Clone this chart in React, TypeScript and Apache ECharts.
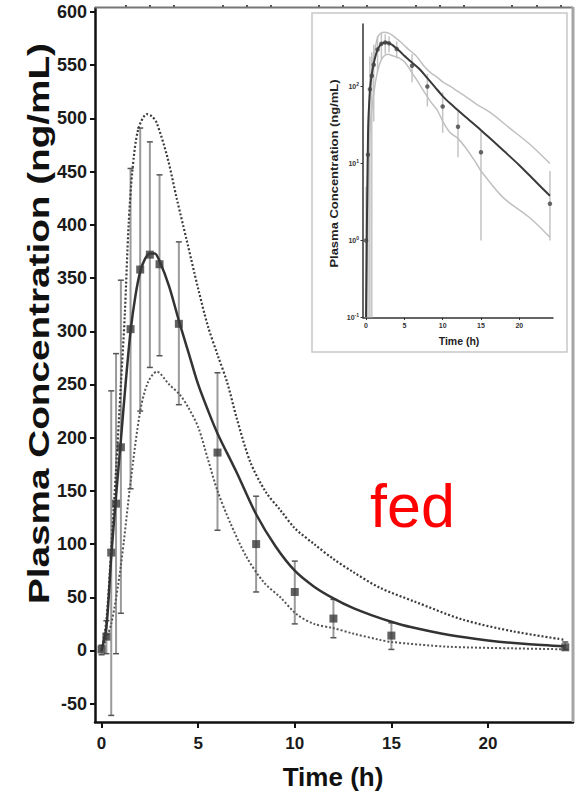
import React, { useEffect, useRef } from 'react';
import * as echarts from 'echarts';

// ---- Observed data (mean ± SD) ----
const OBS_T = [0, 0.25, 0.5, 0.75, 1, 1.5, 2, 2.5, 3, 4, 6, 8, 10, 12, 15, 24];
const OBS_MEAN = [1, 13, 92, 138, 191, 302, 358, 372, 363, 307, 186, 100, 55, 30, 14, 3];
const OBS_LOW = [-4, -3, -61, -3, 35, 152, 225, 266, 277, 231, 113, 55, 25, 12, 1, 1];
const OBS_HIGH = [5, 28, 244, 279, 348, 453, 491, 478, 447, 384, 261, 145, 84, 48, 26, 8];

// ---- Model prediction (solid) ----
const FIT_T = [0, 0.25, 0.5, 0.75, 1, 1.25, 1.5, 1.75, 2, 2.25, 2.5, 2.75, 3, 3.5, 4, 4.5, 5, 5.5, 6, 7, 8, 9, 10, 11, 12, 13, 14, 15, 16, 18, 20, 22, 24];
const FIT_MEAN = [0, 22, 88, 145, 198, 252, 300, 333, 356, 368, 373, 373, 366, 342, 310, 280, 250, 226, 204, 167, 128, 98, 75, 60, 49, 40, 33, 27, 22, 14.5, 9.5, 6, 3.8];

// ---- Upper prediction interval (dotted) ----
const UP_T = [0, 0.25, 0.5, 0.75, 1, 1.2, 1.4, 1.6, 1.9, 2.35, 2.6, 2.85, 3.4, 3.9, 4.4, 5, 5.5, 6, 6.5, 7, 7.7, 8.5, 9.25, 10, 11, 12, 13, 14.4, 16.2, 18.7, 21.3, 24];
const UP_VAL = [0, 28, 95, 170, 250, 315, 400, 452, 490, 504, 502, 496, 464, 424, 386, 340, 305, 278, 252, 218, 177, 149, 132, 115, 100, 86, 74, 59, 46, 29, 18, 10];

// ---- Lower prediction interval (dotted) ----
const LO_T = [0, 0.5, 1, 1.5, 2, 2.4, 2.86, 3.5, 4.07, 4.5, 5, 5.5, 6, 6.66, 7.5, 8.4, 9.25, 10.1, 11, 12, 13, 14.4, 15, 17.9, 21.3, 24];
const LO_VAL = [0, 25, 80, 158, 225, 252, 262, 250, 240, 228, 210, 180, 150, 120, 88, 64, 50, 34, 25, 21, 16, 10, 8, 3.6, 2, 1.1];

// ---- Tick labels ----
const Y_TICKS = [-50, 0, 50, 100, 150, 200, 250, 300, 350, 400, 450, 500, 550, 600];
const X_TICKS = [0, 5, 10, 15, 20];
const X_MINOR = [1.25, 2.5, 3.75, 6.25, 7.5, 8.75, 11.25, 12.5, 13.75, 16.25, 17.5, 18.75, 21.25, 22.5, 23.75];
const LOG_TICKS = [0.1, 1, 10, 100];

const FONT = '"Liberation Sans", Arial, sans-serif';
const LOGMIN = 0.1;

const pairs = (t: number[], v: number[], clamp = false) =>
  t.map((x, i) => [x, clamp ? Math.max(v[i], LOGMIN) : v[i]]);

const errData = (clamp: boolean) =>
  OBS_T.map((t, i) => [
    t,
    clamp ? Math.max(OBS_LOW[i], LOGMIN) : OBS_LOW[i],
    clamp ? Math.max(OBS_HIGH[i], LOGMIN) : OBS_HIGH[i],
  ]);

const makeErr = (color: string, capColor: string, width: number, cap: number) =>
  (params: any, api: any) => {
    const x = api.value(0);
    const p1 = api.coord([x, api.value(1)]);
    const p2 = api.coord([x, api.value(2)]);
    const children: any[] = [
      { type: 'line', shape: { x1: p1[0], y1: p1[1], x2: p2[0], y2: p2[1] }, style: { stroke: color, lineWidth: width } },
    ];
    if (cap > 0) {
      children.push({ type: 'line', shape: { x1: p1[0] - cap, y1: p1[1], x2: p1[0] + cap, y2: p1[1] }, style: { stroke: capColor, lineWidth: 1.5 } });
      children.push({ type: 'line', shape: { x1: p2[0] - cap, y1: p2[1], x2: p2[0] + cap, y2: p2[1] }, style: { stroke: capColor, lineWidth: 1.5 } });
    }
    return { type: 'group', children };
  };

const logLabel = (v: number) => {
  const e = Math.round(Math.log10(v));
  return `{b|10}{s|${e}}`;
};

const option: any = {
  animation: false,
  backgroundColor: '#ffffff',
  grid: [
    { left: 95, right: 14, top: 8, bottom: 78, containLabel: false },
    { left: 363, right: 34, top: 24, bottom: 482.5, containLabel: false, show: true, borderColor: '#8a8a8a', borderWidth: 1 },
  ],
  xAxis: [
    {
      type: 'value', gridIndex: 0, min: -0.34, max: 24.4,
      axisLine: { show: true, onZero: false, lineStyle: { color: '#111', width: 2.5 } },
      axisTick: { show: true, customValues: X_TICKS, length: 6, lineStyle: { color: '#111', width: 2 } },
      axisLabel: { customValues: X_TICKS, fontSize: 17, fontWeight: 'bold', color: '#1a1a1a', fontFamily: FONT, margin: 13 },
      splitLine: { show: false },
    },
    {
      type: 'value', gridIndex: 0, min: -0.34, max: 24.4,
      axisLine: { show: false, onZero: false },
      axisTick: { show: true, customValues: X_MINOR, length: 3, lineStyle: { color: '#111', width: 1.5 } },
      axisLabel: { show: false },
      splitLine: { show: false },
    },
    {
      type: 'value', gridIndex: 1, min: -0.4, max: 24.4,
      axisLine: { show: true, onZero: false, lineStyle: { color: '#333', width: 1.5 } },
      axisTick: { show: true, customValues: X_TICKS, length: 2.5, lineStyle: { color: '#333', width: 1 } },
      axisLabel: { customValues: X_TICKS, fontSize: 7, fontWeight: 'bold', color: '#333', fontFamily: FONT, margin: 4 },
      splitLine: { show: false },
    },
  ],
  yAxis: [
    {
      type: 'value', gridIndex: 0, min: -67.2, max: 603.8,
      axisLine: { show: true, onZero: false, lineStyle: { color: '#111', width: 2.5 } },
      axisTick: { show: true, customValues: Y_TICKS, length: 5, lineStyle: { color: '#111', width: 2 } },
      axisLabel: { customValues: Y_TICKS, fontSize: 18, fontWeight: 'bold', color: '#1a1a1a', fontFamily: FONT, margin: 8 },
      splitLine: { show: false },
    },
    {
      type: 'log', gridIndex: 1, min: 0.1, max: 647, logBase: 10,
      axisLine: { show: true, onZero: false, lineStyle: { color: '#333', width: 1.5 } },
      axisTick: { show: true, customValues: LOG_TICKS, length: 2.5, lineStyle: { color: '#333', width: 1 } },
      axisLabel: {
        customValues: LOG_TICKS, formatter: logLabel, margin: 4, color: '#333',
        rich: {
          b: { fontSize: 7, fontWeight: 'bold', fontFamily: FONT, color: '#333' },
          s: { fontSize: 5, fontWeight: 'bold', fontFamily: FONT, color: '#333', padding: [0, 0, 5, 0] },
        },
      },
      splitLine: { show: false },
    },
  ],
  graphic: [
    { type: 'line', shape: { x1: 95, y1: 7.5, x2: 573, y2: 7.5 }, style: { stroke: '#777', lineWidth: 2 }, z: 5 },
    { type: 'line', shape: { x1: 573, y1: 7, x2: 573, y2: 722 }, style: { stroke: '#a5a5a5', lineWidth: 3 }, z: 5 },
    { type: 'rect', shape: { x: 312, y: 13, width: 255, height: 339 }, style: { stroke: '#c8c8c8', lineWidth: 1.5, fill: '#ffffff' }, z: 0 },
    {
      type: 'text', x: 39, y: 323.5, rotation: Math.PI / 2, scaleX: 1.29, z: 5,
      style: { text: 'Plasma Concentration (ng/mL)', fontSize: 30, fontWeight: 'bold', fontFamily: FONT, fill: '#111', textAlign: 'center', verticalAlign: 'middle', textVerticalAlign: 'middle' },
    },
    {
      type: 'text', x: 333, y: 776.5, z: 5,
      style: { text: 'Time (h)', fontSize: 26, fontWeight: 'bold', fontFamily: FONT, fill: '#111', textAlign: 'center', verticalAlign: 'middle', textVerticalAlign: 'middle' },
    },
    {
      type: 'text', x: 412.5, y: 506, z: 5,
      style: { text: 'fed', fontSize: 61, fontWeight: 'normal', fontFamily: FONT, fill: '#ff0000', textAlign: 'center', verticalAlign: 'middle', textVerticalAlign: 'middle' },
    },
    {
      type: 'text', x: 334.5, y: 173.5, rotation: Math.PI / 2, scaleX: 1.3, z: 5,
      style: { text: 'Plasma Concentration (ng/mL)', fontSize: 10, fontWeight: 'bold', fontFamily: FONT, fill: '#222', textAlign: 'center', verticalAlign: 'middle', textVerticalAlign: 'middle' },
    },
    {
      type: 'text', x: 459, y: 341, z: 5,
      style: { text: 'Time (h)', fontSize: 10.5, fontWeight: 'bold', fontFamily: FONT, fill: '#222', textAlign: 'center', verticalAlign: 'middle', textVerticalAlign: 'middle' },
    },
  ],
  series: [
    // main chart
    {
      type: 'custom', xAxisIndex: 0, yAxisIndex: 0, z: 2,
      renderItem: makeErr('#9a9a9a', '#555', 2, 3),
      data: errData(false), encode: { x: 0, y: [1, 2] },
    },
    {
      type: 'line', xAxisIndex: 0, yAxisIndex: 0, data: pairs(UP_T, UP_VAL), smooth: 0.3, symbol: 'none', z: 3,
      lineStyle: { color: '#3c3c3c', width: 2.2, type: [2, 2] },
    },
    {
      type: 'line', xAxisIndex: 0, yAxisIndex: 0, data: pairs(LO_T, LO_VAL), smooth: 0.3, symbol: 'none', z: 3,
      lineStyle: { color: '#555', width: 2, type: [2, 2] },
    },
    {
      type: 'line', xAxisIndex: 0, yAxisIndex: 0, data: pairs(FIT_T, FIT_MEAN), smooth: 0.3, symbol: 'none', z: 4,
      lineStyle: { color: '#333', width: 2.5 },
    },
    {
      type: 'scatter', xAxisIndex: 0, yAxisIndex: 0, data: pairs(OBS_T, OBS_MEAN), symbol: 'rect', symbolSize: 8, z: 5,
      itemStyle: { color: '#3a3a3a' },
    },
    // inset
    {
      type: 'custom', xAxisIndex: 2, yAxisIndex: 1, z: 2,
      renderItem: makeErr('#c4c4c4', '#c4c4c4', 1.5, 0),
      data: errData(true), encode: { x: 0, y: [1, 2] },
    },
    {
      type: 'line', xAxisIndex: 2, yAxisIndex: 1, data: pairs(UP_T, UP_VAL, true), smooth: 0.3, symbol: 'none', z: 3,
      lineStyle: { color: '#c0c0c0', width: 1.5 },
    },
    {
      type: 'line', xAxisIndex: 2, yAxisIndex: 1, data: pairs(LO_T, LO_VAL, true), smooth: 0.3, symbol: 'none', z: 3,
      lineStyle: { color: '#c0c0c0', width: 1.5 },
    },
    {
      type: 'line', xAxisIndex: 2, yAxisIndex: 1, data: pairs(FIT_T, FIT_MEAN, true), smooth: 0.3, symbol: 'none', z: 4,
      lineStyle: { color: '#3a3a3a', width: 2 },
    },
    {
      type: 'scatter', xAxisIndex: 2, yAxisIndex: 1, data: pairs(OBS_T, OBS_MEAN, true), symbol: 'circle', symbolSize: 4.5, z: 5,
      itemStyle: { color: '#444' },
    },
  ],
};

export default function App() {
  const ref = useRef<HTMLDivElement>(null);
  useEffect(() => {
    document.body.style.margin = '0';
    const chart = echarts.init(ref.current as HTMLDivElement, null, { renderer: 'svg' });
    chart.setOption(option);
    return () => chart.dispose();
  }, []);
  return <div ref={ref} style={{ width: 587, height: 800 }} />;
}
